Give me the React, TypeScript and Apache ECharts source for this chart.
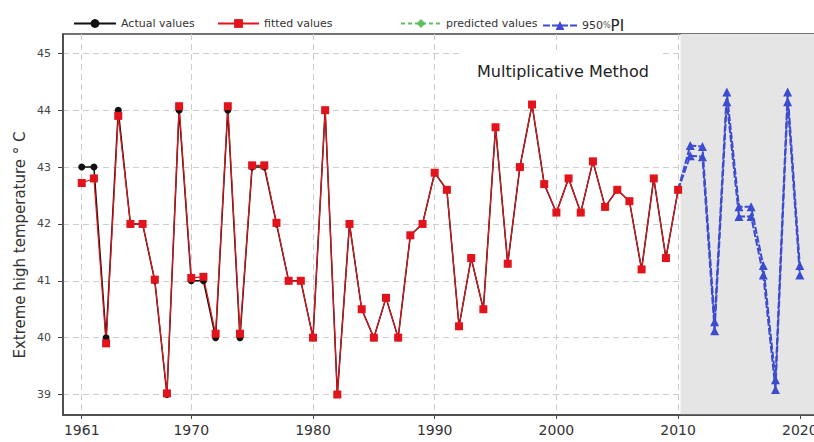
import React, { useEffect, useRef } from 'react';
import * as echarts from 'echarts';

const startYear = 1961;
const actualValues = [43, 43, 40, 44, 42, 42, 41, 39, 44, 41, 41, 40, 44, 40, 43, 43, 42, 41, 41, 40, 44, 39, 42, 40.5, 40, 40.7, 40, 41.8, 42, 42.9, 42.6, 40.2, 41.4, 40.5, 43.7, 41.3, 43, 44.1, 42.7, 42.2, 42.8, 42.2, 43.1, 42.3, 42.6, 42.4, 41.2, 42.8, 41.4, 42.6];
const fittedValues = [42.72, 42.8, 39.9, 43.9, 42, 42, 41.02, 39.02, 44.07, 41.05, 41.07, 40.07, 44.07, 40.07, 43.03, 43.03, 42.02, 41, 41, 40, 44, 39, 42, 40.5, 40, 40.7, 40, 41.8, 42, 42.9, 42.6, 40.2, 41.4, 40.5, 43.7, 41.3, 43, 44.1, 42.7, 42.2, 42.8, 42.2, 43.1, 42.3, 42.6, 42.4, 41.2, 42.8, 41.4, 42.6];
const predStartYear = 2011;
const predictedValues = [43.29, 43.27, 40.2, 44.23, 42.21, 42.21, 41.18, 39.17, 44.23, 41.18];
const piUpper = [43.38, 43.36, 40.28, 44.32, 42.3, 42.3, 41.27, 39.26, 44.32, 41.27];
const piLower = [43.2, 43.18, 40.12, 44.15, 42.13, 42.13, 41.1, 39.09, 44.15, 41.1];
const xTickYears = [1961, 1970, 1980, 1990, 2000, 2010, 2020];
const yTicks = [39, 40, 41, 42, 43, 44, 45];
const forecastStart = 2010.2;

export default function App() {
  const ref = useRef<HTMLDivElement>(null);
  useEffect(() => {
    if (!ref.current) return;
    const chart = echarts.init(ref.current, null, { renderer: 'svg' });
    const font = 'DejaVu Sans';
    const xMin = 1959.46;
    const xMax = 2021.33;
    const actual = actualValues.map((v, i) => [startYear + i, v]);
    const fitted = fittedValues.map((v, i) => [startYear + i, v]);
    const lastFit = fitted[fitted.length - 1];
    const predicted = predictedValues.map((v, i) => [predStartYear + i, v]);
    const upper: any[] = [{ value: lastFit, symbol: 'none' }, ...piUpper.map((v, i) => [predStartYear + i, v])];
    const lower: any[] = [{ value: lastFit, symbol: 'none' }, ...piLower.map((v, i) => [predStartYear + i, v])];
    const legendText = { fontFamily: font, fontSize: 11, color: '#333' };
    const blue = '#3d4ccf';

    chart.setOption({
      animation: false,
      backgroundColor: '#ffffff',
      grid: {
        left: 63, top: 34, right: -2, bottom: 27, show: true, borderColor: '#444', borderWidth: 1.5,
        containLabel: false, outerBoundsMode: 'none',
      },
      legend: [
        { data: ['Actual values'], left: 68, top: 13, itemWidth: 42, itemHeight: 11, textStyle: legendText },
        { data: ['fitted values'], left: 212, top: 13, itemWidth: 41, itemHeight: 11, textStyle: legendText },
        { data: ['predicted values'], left: 395, top: 13, itemWidth: 40, itemHeight: 11, textStyle: legendText },
        {
          data: ['950%PI'], left: 537, top: 13, itemWidth: 34, itemHeight: 11,
          formatter: () => '{a|950}{c|%}{b|PI}',
          textStyle: { ...legendText, rich: { a: { fontFamily: font, fontSize: 11, color: '#333' }, c: { fontFamily: font, fontSize: 8, color: '#555' }, b: { fontFamily: font, fontSize: 15, color: '#222' } } },
        },
      ],
      xAxis: {
        type: 'value', min: xMin, max: xMax, z: 1,
        axisLine: { show: true, lineStyle: { color: '#444', width: 1.5 } },
        axisTick: { show: true, customValues: xTickYears, length: 4, lineStyle: { color: '#444' } },
        axisLabel: { customValues: xTickYears, formatter: (v: number) => String(v), fontFamily: font, fontSize: 14, color: '#333', margin: 8 },
        splitLine: { show: true, lineStyle: { color: '#cdcdcd', type: [6, 4], width: 1 } },
      },
      yAxis: {
        type: 'value', min: 38.64, max: 45.34, z: 1,
        axisLine: { show: true, lineStyle: { color: '#444', width: 1.5 } },
        axisTick: { show: true, customValues: yTicks, length: 5, lineStyle: { color: '#444' } },
        axisLabel: { customValues: yTicks, formatter: (v: number) => String(v), fontFamily: font, fontSize: 11, color: '#444', margin: 12 },
        splitLine: { show: true, lineStyle: { color: '#cdcdcd', type: [6, 4], width: 1 } },
      },
      graphic: [
        {
          type: 'text', x: 563, y: 71, z: 5,
          style: {
            text: 'Multiplicative Method', fontFamily: font, fontSize: 16, fill: '#222',
            align: 'center', verticalAlign: 'middle', backgroundColor: '#ffffff', padding: [11, 14],
          },
        },
        {
          type: 'text', x: 20, y: 245, rotation: Math.PI / 2,
          style: { text: 'Extreme high temperature ° C', fontFamily: font, fontSize: 15, fill: '#333', align: 'center', verticalAlign: 'middle' },
        },
      ],
      series: [
        {
          name: 'predicted values', type: 'line', data: predicted, z: 0,
          symbol: 'diamond', symbolSize: 8,
          itemStyle: { color: '#5fbf5f' }, lineStyle: { color: '#5fbf5f', width: 1.5, type: [4, 3] },
          markArea: { silent: true, itemStyle: { color: '#e5e5e5' }, data: [[{ xAxis: forecastStart }, { xAxis: xMax }]] },
        },
        {
          name: 'Actual values', type: 'line', data: actual,
          symbol: 'circle', symbolSize: 7,
          itemStyle: { color: '#111' }, lineStyle: { color: '#111', width: 1.5 },
        },
        {
          name: 'fitted values', type: 'line', data: fitted,
          symbol: 'rect', symbolSize: 8,
          itemStyle: { color: '#e3131b' }, lineStyle: { color: '#e3131b', width: 1.2 },
        },
        {
          name: '950%PI', type: 'line', data: upper,
          symbol: 'triangle', symbolSize: 9,
          itemStyle: { color: blue }, lineStyle: { color: blue, width: 2, type: [7, 2] },
        },
        {
          name: '950%PI', type: 'line', data: lower,
          symbol: 'triangle', symbolSize: 9,
          itemStyle: { color: blue }, lineStyle: { color: blue, width: 2, type: [7, 2] },
        },
      ],
    });
    return () => chart.dispose();
  }, []);
  return <div ref={ref} style={{ position: 'fixed', left: 0, top: 0, width: 814, height: 442 }} />;
}
